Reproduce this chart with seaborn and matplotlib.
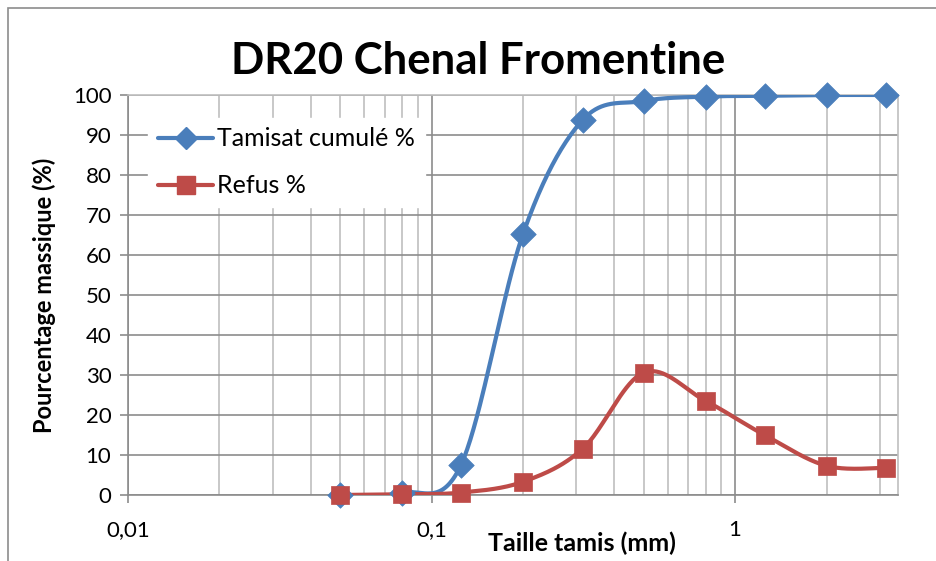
import numpy as np
import pandas as pd
import matplotlib
matplotlib.use("Agg")
import matplotlib.pyplot as plt
from matplotlib.lines import Line2D
from matplotlib.patches import Rectangle
from matplotlib.ticker import LogLocator, FixedLocator, NullFormatter
import seaborn as sns

# Sieve sizes (mm) and grading results
tamis_mm = [0.05, 0.08, 0.125, 0.2, 0.315, 0.5, 0.8, 1.25, 2.0, 3.15]
tamisat_cumule = [0.0, 0.5, 7.5, 65.2, 93.8, 98.5, 99.6, 99.8, 100.0, 100.0]
refus = [0.0, 0.2, 0.6, 3.3, 11.6, 30.6, 23.5, 15.0, 7.3, 6.8]
series_names = ["Tamisat cumulé %", "Refus %"]
title = "DR20 Chenal Fromentine"
x_ticks = [0.01, 0.1, 1]
x_tick_labels = ["0,01", "0,1", "1"]

BLUE = "#4A7EBB"
RED = "#BE4B48"

sns.set_theme(style="white")
plt.rcParams["font.family"] = ["Lato", "DejaVu Sans"]
plt.rcParams["text.color"] = "black"
plt.rcParams["axes.labelcolor"] = "black"


def smooth_curve(x, y, n=40):
    """Catmull-Rom spline through the points, in log10(x) / y space."""
    lx = np.log10(np.asarray(x, float))
    yy = np.asarray(y, float)
    P = np.column_stack([lx, yy])
    P = np.vstack([P[0], P, P[-1]])
    out = []
    t = np.linspace(0, 1, n)[:, None]
    for i in range(1, len(P) - 2):
        p0, p1, p2, p3 = P[i - 1], P[i], P[i + 1], P[i + 2]
        c1 = p1 + (p2 - p0) / 6.0
        c2 = p2 - (p3 - p1) / 6.0
        seg = ((1 - t) ** 3) * p1 + 3 * ((1 - t) ** 2) * t * c1 \
            + 3 * (1 - t) * t ** 2 * c2 + t ** 3 * p2
        out.append(seg if i == 1 else seg[1:])
    seg = np.vstack(out)
    return pd.DataFrame({"x": 10 ** seg[:, 0], "y": seg[:, 1]})


fig = plt.figure(figsize=(9.36, 5.61), dpi=100)
ax = fig.add_axes([128 / 936, 66 / 561, 770 / 936, 400 / 561])
ax.set_xscale("log")

LW = 3.0
series = [(tamisat_cumule, BLUE, "D", 13), (refus, RED, "s", 13.5)]
for vals, color, marker, ms in series:
    curve = smooth_curve(tamis_mm, vals)
    sns.lineplot(data=curve, x="x", y="y", ax=ax, color=color, lw=LW,
                 sort=False, estimator=None, zorder=3)
    pts = pd.DataFrame({"x": tamis_mm, "y": vals})
    sns.scatterplot(data=pts, x="x", y="y", ax=ax, color=color,
                    marker=marker, s=ms ** 2, edgecolor=color,
                    linewidth=0.5, zorder=4, clip_on=False)

ax.set_xlim(0.01, 3.44)
ax.set_ylim(0, 100)
ax.set_yticks(np.arange(0, 101, 10))
ax.xaxis.set_major_locator(FixedLocator(x_ticks))
ax.set_xticklabels(x_tick_labels)
ax.xaxis.set_minor_locator(LogLocator(base=10, subs=np.arange(2, 10)))
ax.xaxis.set_minor_formatter(NullFormatter())

ax.grid(True, which="major", axis="both", color="#8C8C8C", lw=1.2)
ax.grid(True, which="minor", axis="x", color="#BFBFBF", lw=1.2)
ax.set_axisbelow(True)
for side in ["left", "bottom"]:
    ax.spines[side].set_color("#8C8C8C")
    ax.spines[side].set_linewidth(1.2)
for side in ["top", "right"]:
    ax.spines[side].set_color("#BFBFBF")
    ax.spines[side].set_linewidth(1.2)

ax.tick_params(axis="both", which="major", direction="out", length=6,
               width=1.2, color="#8C8C8C", labelsize=16, pad=6,
               labelcolor="black", left=True, bottom=True)
ax.tick_params(axis="x", which="minor", length=0)
ax.tick_params(axis="x", which="major", pad=12)

ax.set_xlabel("Taille tamis (mm)", fontsize=18, fontweight="bold",
              va="top")
ax.xaxis.set_label_coords(0.59, -0.092)
ax.set_ylabel("Pourcentage massique (%)", fontsize=17, fontweight="bold")
ax.yaxis.set_label_coords(-0.094, 0.5)

fig.text(478 / 936, 1 - 61 / 561, title, fontsize=31.5, fontweight="bold",
         ha="center", va="center", color="black")

handles = [
    Line2D([], [], color=BLUE, lw=LW, marker="D", markersize=11.5,
           markeredgecolor=BLUE),
    Line2D([], [], color=RED, lw=LW, marker="s", markersize=12.5,
           markeredgecolor=RED),
]
leg = ax.legend(handles, series_names, loc="upper left",
                bbox_to_anchor=(0.01, 0.975), fontsize=18, frameon=True,
                facecolor="white", edgecolor="white", framealpha=1,
                handlelength=2.2, handletextpad=0.15, labelspacing=0.95,
                borderpad=0.4, fancybox=False)
leg.set_zorder(5)

# outer chart frame
fig.patches.append(Rectangle((8 / 936, -0.1), 1.2, (561 - 8) / 561 + 0.1,
                             transform=fig.transFigure, fill=False,
                             edgecolor="#8C8C8C", lw=1.2))

fig.savefig("out.png", dpi=100)
